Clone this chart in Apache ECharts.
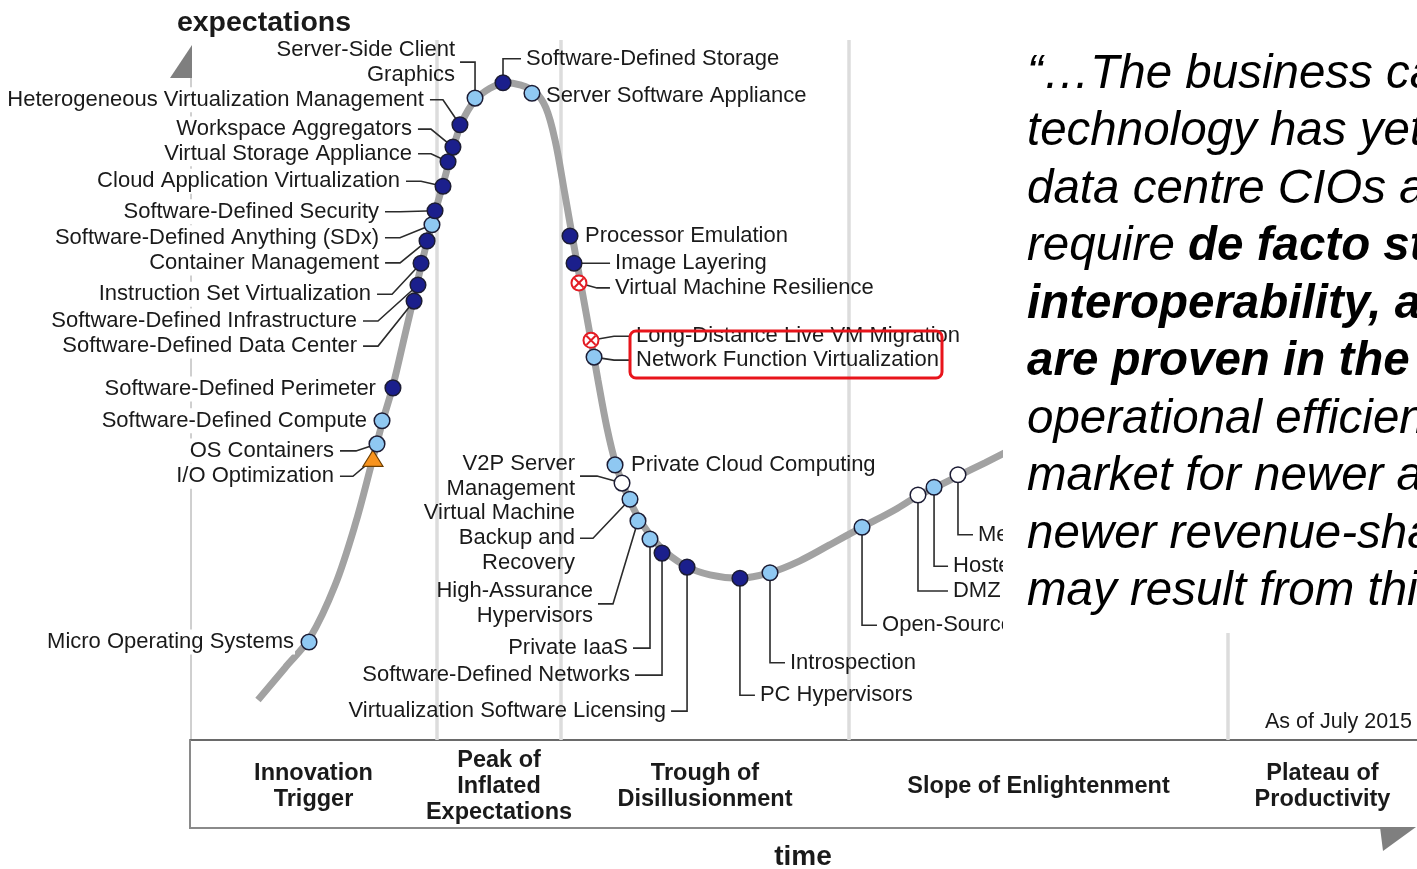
<!DOCTYPE html>
<html>
<head>
<meta charset="utf-8">
<title>Hype Cycle for Virtualization, 2015</title>
<script src="https://cdn.jsdelivr.net/npm/echarts@6/dist/echarts.min.js"></script>
<style>
  html, body { margin: 0; padding: 0; background: #fff; }
  #chart { width: 1417px; height: 869px; }
</style>
</head>
<body>
<div id="chart"></div>
<script>
// hype curve (time 0-100, expectations 0-100)
const curveT = [5.54, 7.74, 9.78, 11.82, 13.45, 14.83, 15.73, 16.54, 17.52, 18.34, 19.15, 19.97, 20.62, 21.35, 22.17,
  23.23, 24.45, 25.67, 26.89, 28.12, 29.01, 29.75, 30.56, 31.21, 31.87, 32.6, 33.25, 33.98, 34.72, 35.53, 36.67,
  38.3, 40.34, 42.38, 44.83, 47.27, 49.71, 52.16, 54.77, 57.46, 59.33, 60.64, 62.59, 64.79, 66.83];
const curveE = [5.7, 10.3, 14.6, 22.1, 30.7, 39.7, 45.7, 50.6, 57.9, 64.0, 70.0, 75.4, 79.4, 84.0, 88.3,
  91.4, 93.1, 93.9, 93.6, 92.6, 90.3, 85.7, 77.9, 71.4, 65.0, 57.9, 51.4, 44.6, 39.3, 35.4, 31.4,
  27.6, 24.9, 23.6, 23.1, 23.9, 25.6, 27.9, 30.4, 32.9, 34.9, 36.0, 37.7, 39.6, 41.4];

// technologies on the curve
const techNames = [
  'Micro Operating Systems', 'I/O Optimization', 'OS Containers', 'Software-Defined Compute',
  'Software-Defined Perimeter', 'Software-Defined Data Center', 'Software-Defined Infrastructure',
  'Instruction Set Virtualization', 'Container Management', 'Software-Defined Anything (SDx)',
  'Software-Defined Security', 'Cloud Application Virtualization', 'Virtual Storage Appliance',
  'Workspace Aggregators', 'Heterogeneous Virtualization Management', 'Server-Side Client\nGraphics',
  'Software-Defined Storage', 'Server Software Appliance', 'Processor Emulation', 'Image Layering',
  'Virtual Machine Resilience', 'Long-Distance Live VM Migration', 'Network Function Virtualization',
  'Private Cloud Computing', 'V2P Server\nManagement', 'Virtual Machine\nBackup and\nRecovery',
  'High-Assurance\nHypervisors', 'Private IaaS', 'Software-Defined Networks',
  'Virtualization Software Licensing', 'PC Hypervisors', 'Introspection',
  'Open-Source Virtualization', 'DMZ Virtualization', 'Hosted Virtual Desktops', 'Memory Overcommit'
];
const techT = [9.70, 14.91, 15.24, 15.65, 16.54, 18.26, 18.58, 18.83, 19.32, 19.72, 19.97, 20.62, 21.03,
  21.43, 22.0, 23.23, 25.51, 27.87, 30.97, 31.30, 31.70, 32.68, 32.93, 34.64, 35.21, 35.86, 36.51,
  37.49, 38.47, 40.51, 44.82, 47.27, 54.77, 59.33, 60.64, 62.59];
const techE = [14.0, 40.1, 42.3, 45.6, 50.3, 62.7, 65.0, 68.1, 71.3, 73.6, 75.6, 79.1, 82.6, 84.7, 87.9,
  91.7, 93.9, 92.4, 72.0, 68.1, 65.3, 57.1, 54.7, 39.3, 36.7, 34.4, 31.3, 28.7, 26.7, 24.7, 23.1, 23.9,
  30.4, 35.0, 36.1, 37.9];
// years to mainstream adoption
const techKind = ['2to5', 'gt10', '2to5', '2to5', '5to10', '5to10', '5to10', '5to10', '5to10', '2to5',
  '5to10', '5to10', '5to10', '5to10', '5to10', '2to5', '5to10', '2to5', '5to10', '5to10', 'obs', 'obs',
  '2to5', '2to5', 'lt2', '2to5', '2to5', '2to5', '5to10', '5to10', '5to10', '2to5', '2to5', 'lt2',
  '2to5', 'lt2'];

// label placement relative to the dot: [dx, dy, side, leader, knee]
const labelLayout = [
  [-14, 0, 'r', 'none', 0], [-38, 17, 'r', 'diag', 13], [-42, 7, 'r', 'diag', 16], [-14, 0, 'r', 'none', 0],
  [-16, 1, 'r', 'none', 0], [-56, 45, 'r', 'diag', 15], [-60, 36, 'r', 'diag', 15], [-49, 31, 'r', 'diag', 15],
  [-47, 22, 'r', 'diag', 15], [-52, 13, 'r', 'diag', 15], [-55, 1, 'r', 'diag', 15], [-42, -5, 'r', 'diag', 15],
  [-35, -8, 'r', 'diag', 13], [-40, -18, 'r', 'diag', 13], [-35, -25, 'r', 'diag', 13], [-20, -36, 'r', 'vert', 0],
  [23, -24, 'l', 'vert', 0], [14, 3, 'l', 'none', 0], [15, 0, 'l', 'none', 0], [41, 0, 'l', 'diag', 20],
  [36, 5, 'l', 'diag', 13], [45, -4, 'l', 'diag', 17], [42, 3, 'l', 'diag', 17], [16, 0, 'l', 'none', 0],
  [-47, -7, 'r', 'diag', 17], [-55, 39, 'r', 'diag', 13], [-45, 83, 'r', 'diag', 15], [-22, 109, 'r', 'vert', 0],
  [-32, 122, 'r', 'vert', 0], [-21, 144, 'r', 'vert', 0], [20, 117, 'l', 'vert', 0], [20, 90, 'l', 'vert', 0],
  [20, 98, 'l', 'vert', 0], [35, 96, 'l', 'vert', 0], [19, 79, 'l', 'vert', 0], [20, 60, 'l', 'vert', 0]
];

const phaseNames = ['Innovation\nTrigger', 'Peak of\nInflated\nExpectations', 'Trough of\nDisillusionment',
  'Slope of Enlightenment', 'Plateau of\nProductivity'];
const phaseBounds = [0, 20.13, 30.24, 53.71, 84.6, 100];

const FONT = '"Liberation Sans", Arial, sans-serif';
const kindFill = { lt2: '#ffffff', '2to5': '#8fc8f2', '5to10': '#1b1f8c', gt10: '#f7931e', obs: '#e31b23' };

const chart = echarts.init(document.getElementById('chart'));

function renderLabel(params, api) {
  const i = api.value(2);
  const p = api.coord([api.value(0), api.value(1)]);
  const [dx, dy, side, lead, knee] = labelLayout[i];
  const ax = p[0] + dx, ay = p[1] + dy;
  const right = side === 'r';
  const children = [];
  if (lead !== 'none') {
    const lx = ax + (right ? 5 : -5);
    const pts = lead === 'vert'
      ? [[lx, ay], [p[0], ay], p]
      : [[lx, ay], [lx + (right ? knee : -knee), ay], p];
    children.push({ type: 'polyline', shape: { points: pts }, style: { stroke: '#2b2b2b', lineWidth: 1.6, fill: null } });
  }
  const st = {
    text: techNames[i], fill: '#1a1a1a', fontSize: 22, fontFamily: FONT,
    align: right ? 'right' : 'left', verticalAlign: 'middle', lineHeight: 25
  };
  if (right && ax < 440) { st.backgroundColor = '#fff'; st.padding = [0, 1]; }
  children.push({ type: 'text', x: ax, y: ay, style: st });
  return { type: 'group', children };
}

function renderDot(params, api) {
  const i = api.value(2);
  const p = api.coord([api.value(0), api.value(1)]);
  const kind = techKind[i];
  if (kind === 'gt10') {
    return { type: 'polygon', shape: { points: [[p[0], p[1] - 9], [p[0] + 10, p[1] + 7], [p[0] - 10, p[1] + 7]] },
      style: { fill: kindFill.gt10, stroke: '#6b3d00', lineWidth: 1.2 } };
  }
  if (kind === 'obs') {
    const c = kindFill.obs, d = 4.6;
    return { type: 'group', children: [
      { type: 'circle', shape: { cx: p[0], cy: p[1], r: 7.5 }, style: { fill: '#fff', stroke: c, lineWidth: 2 } },
      { type: 'line', shape: { x1: p[0] - d, y1: p[1] - d, x2: p[0] + d, y2: p[1] + d }, style: { stroke: c, lineWidth: 2 } },
      { type: 'line', shape: { x1: p[0] - d, y1: p[1] + d, x2: p[0] + d, y2: p[1] - d }, style: { stroke: c, lineWidth: 2 } }
    ] };
  }
  return { type: 'circle', shape: { cx: p[0], cy: p[1], r: 7.8 },
    style: { fill: kindFill[kind], stroke: '#1c1c34', lineWidth: 1.5 } };
}

function renderPhase(params, api) {
  const p = api.coord([api.value(0), 0]);
  return { type: 'text', x: p[0], y: p[1] + 47,
    style: { text: phaseNames[params.dataIndex], fill: '#1a1a1a', fontSize: 23.5, fontWeight: 'bold',
      fontFamily: FONT, align: 'center', verticalAlign: 'middle', lineHeight: 26 } };
}

const techData = techT.map((t, i) => [t, techE[i], i]);
const phaseMid = phaseNames.map((n, i) => [(phaseBounds[i] + phaseBounds[i + 1]) / 2]);

const quote = [
  '{i|“…The business case}',
  '{i|technology has yet}',
  '{i|data centre CIOs and}',
  '{i|require }{b|de facto standards}',
  '{b|interoperability, and}',
  '{b|are proven in the}',
  '{i|operational efficiency}',
  '{i|market for newer and}',
  '{i|newer revenue-sharing}',
  '{i|may result from this}'
].join('\n');

const QF = 47.5;

chart.setOption({
  animation: false,
  grid: { left: 190, right: 0, top: 40, bottom: 129 },
  xAxis: {
    type: 'value', min: 0, max: 100,
    axisLine: { show: true, lineStyle: { color: '#6a6a6a', width: 2 } },
    axisTick: { show: false }, axisLabel: { show: false }, splitLine: { show: false }
  },
  yAxis: {
    type: 'value', min: 0, max: 100,
    axisLine: { show: false }, axisTick: { show: false }, axisLabel: { show: false }, splitLine: { show: false }
  },
  series: [
    {
      type: 'line', z: 1, data: [], silent: true,
      markLine: {
        z: 1, silent: true, symbol: 'none', label: { show: false },
        lineStyle: { color: '#dcdcdc', width: 3.5, type: 'solid' },
        data: phaseBounds.slice(1, -1).map(v => ({ xAxis: v }))
      }
    },
    {
      type: 'line', z: 3, smooth: 0.35, showSymbol: false, silent: true,
      lineStyle: { color: '#a2a2a2', width: 7 },
      data: curveT.map((t, i) => [t, curveE[i]])
    },
    { type: 'custom', z: 4, clip: false, silent: true, renderItem: renderLabel, data: techData },
    { type: 'custom', z: 5, clip: false, silent: true, renderItem: renderDot, data: techData },
    { type: 'custom', z: 4, clip: false, silent: true, renderItem: renderPhase, data: phaseMid }
  ],
  graphic: [
    { type: 'line', z: 0, shape: { x1: 191, y1: 76, x2: 191, y2: 740 }, style: { stroke: '#a0a0a0', lineWidth: 1 } },
    { type: 'polygon', z: 1, shape: { points: [[192, 45], [192, 78], [170, 78]] }, style: { fill: '#7f7f7f' } },
    { type: 'line', z: 1, shape: { x1: 190, y1: 740, x2: 190, y2: 829 }, style: { stroke: '#8a8a8a', lineWidth: 2 } },
    { type: 'line', z: 1, shape: { x1: 190, y1: 828, x2: 1382, y2: 828 }, style: { stroke: '#8a8a8a', lineWidth: 2 } },
    { type: 'polygon', z: 1, shape: { points: [[1380, 827], [1416, 827], [1383, 851]] }, style: { fill: '#7f7f7f' } },
    { type: 'text', z: 1, x: 264, y: 23,
      style: { text: 'expectations', fill: '#1a1a1a', fontSize: 28.5, fontWeight: 'bold', fontFamily: FONT, align: 'center', verticalAlign: 'middle' } },
    { type: 'text', z: 1, x: 803, y: 857,
      style: { text: 'time', fill: '#1a1a1a', fontSize: 28, fontWeight: 'bold', fontFamily: FONT, align: 'center', verticalAlign: 'middle' } },
    { type: 'text', z: 1, x: 1265, y: 722,
      style: { text: 'As of July 2015', fill: '#1a1a1a', fontSize: 21.5, fontFamily: FONT, align: 'left', verticalAlign: 'middle' } },
    { type: 'rect', z: 50, shape: { x: 630, y: 331, width: 312, height: 47, r: 6 },
      style: { fill: null, stroke: '#e8141b', lineWidth: 3 } },
    { type: 'rect', z: 100, shape: { x: 1003, y: 0, width: 414, height: 633 }, style: { fill: '#ffffff' } },
    { type: 'text', z: 101, x: 1027, y: 46,
      style: {
        text: quote, fill: '#000', fontFamily: FONT, fontSize: QF, lineHeight: 57.5,
        align: 'left', verticalAlign: 'top',
        rich: {
          i: { fontStyle: 'italic', fontSize: QF, fontFamily: FONT, lineHeight: 57.5, fill: '#000' },
          b: { fontStyle: 'italic', fontWeight: 'bold', fontSize: QF, fontFamily: FONT, lineHeight: 57.5, fill: '#000' }
        }
      } }
  ]
});
</script>
</body>
</html>
